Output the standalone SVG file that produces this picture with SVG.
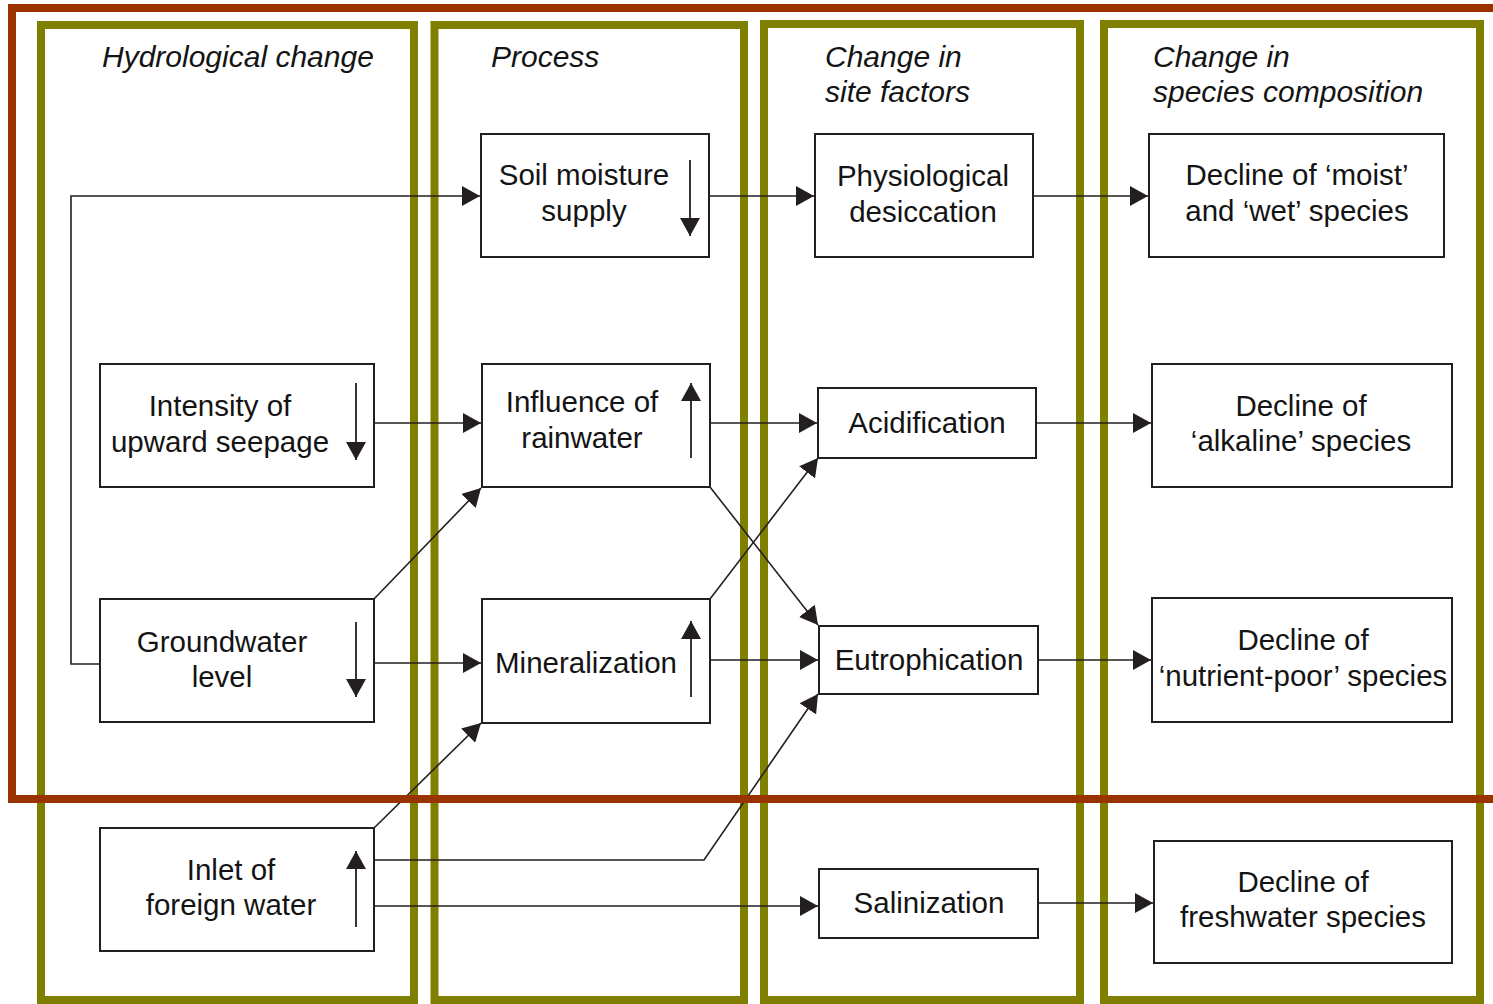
<svg xmlns="http://www.w3.org/2000/svg" width="1493" height="1004" viewBox="0 0 1493 1004">
<defs>
<marker id="ah" viewBox="0 0 18 20" refX="18" refY="10" markerWidth="18" markerHeight="20" markerUnits="userSpaceOnUse" orient="auto">
<path d="M0,0 L18,10 L0,20 z" fill="#231f20"/>
</marker>
<style>
.col{fill:none;stroke:#808000;stroke-width:8}
.frame{fill:none;stroke:#993300;stroke-width:8}
.box{fill:#fff;stroke:#231f20;stroke-width:2}
.c{fill:none;stroke:#231f20;stroke-width:1.6;marker-end:url(#ah)}
.ind{fill:none;stroke:#231f20;stroke-width:1.8;marker-end:url(#ah)}
text{font-family:"Liberation Sans",Arial,sans-serif;font-size:29.5px;fill:#141414}
.t{text-anchor:middle}
.h{font-style:italic;font-size:30px}
</style>
</defs>
<rect width="1493" height="1004" fill="#fff"/>
<g id="columns">
<rect class="col" x="41" y="25" width="373" height="975"/>
<rect class="col" x="434.5" y="25" width="309.5" height="975"/>
<rect class="col" x="764" y="24" width="316" height="976"/>
<rect class="col" x="1104" y="24" width="376" height="976"/>
</g>
<g id="headers">
<text class="h" x="102" y="67">Hydrological change</text>
<text class="h" x="491" y="67">Process</text>
<text class="h" x="825" y="67">Change in</text>
<text class="h" x="825" y="102">site factors</text>
<text class="h" x="1153" y="67">Change in</text>
<text class="h" x="1153" y="102">species composition</text>
</g>
<g id="connectors">
<path class="c" d="M100,664 H71 V196 H480"/>
<path class="c" d="M709,196 H814"/>
<path class="c" d="M1033,196 H1148"/>
<path class="c" d="M374,423 H481"/>
<path class="c" d="M374,599 L481,488"/>
<path class="c" d="M374,663 H481"/>
<path class="c" d="M710,423 H817"/>
<path class="c" d="M710,487 L818,625"/>
<path class="c" d="M710,599 L818,458"/>
<path class="c" d="M710,660 H818"/>
<path class="c" d="M1036,423 H1151"/>
<path class="c" d="M1038,660 H1151"/>
<path class="c" d="M374,828 L481,723"/>
<path class="c" d="M374,860 H704 L818,694"/>
<path class="c" d="M374,906 H818"/>
<path class="c" d="M1038,903 H1153"/>
</g>
<g id="soil-moisture">
<rect class="box" x="481" y="134" width="228" height="123"/>
<text class="t" x="584" y="185">Soil moisture</text>
<text class="t" x="584" y="221">supply</text>
<path class="ind" d="M690,160 V236"/>
</g>
<g id="physiological">
<rect class="box" x="815" y="134" width="218" height="123"/>
<text class="t" x="923" y="186">Physiological</text>
<text class="t" x="923" y="222">desiccation</text>
</g>
<g id="decline-moist">
<rect class="box" x="1149" y="134" width="295" height="123"/>
<text class="t" x="1297" y="185">Decline of ‘moist’</text>
<text class="t" x="1297" y="221">and ‘wet’ species</text>
</g>
<g id="intensity">
<rect class="box" x="100" y="364" width="274" height="123"/>
<text class="t" x="220" y="416">Intensity of</text>
<text class="t" x="220" y="452">upward seepage</text>
<path class="ind" d="M356,383 V460"/>
</g>
<g id="influence">
<rect class="box" x="482" y="364" width="228" height="123"/>
<text class="t" x="582" y="412">Influence of</text>
<text class="t" x="582" y="448">rainwater</text>
<path class="ind" d="M691,458 V383"/>
</g>
<g id="acidification">
<rect class="box" x="818" y="388" width="218" height="70"/>
<text class="t" x="927" y="433">Acidification</text>
</g>
<g id="decline-alkaline">
<rect class="box" x="1152" y="364" width="300" height="123"/>
<text class="t" x="1301" y="416">Decline of</text>
<text class="t" x="1301" y="451">‘alkaline’ species</text>
</g>
<g id="groundwater">
<rect class="box" x="100" y="599" width="274" height="123"/>
<text class="t" x="222" y="652">Groundwater</text>
<text class="t" x="222" y="687">level</text>
<path class="ind" d="M356,622 V697"/>
</g>
<g id="mineralization">
<rect class="box" x="482" y="599" width="228" height="124"/>
<text class="t" x="586" y="673">Mineralization</text>
<path class="ind" d="M691,697 V621"/>
</g>
<g id="eutrophication">
<rect class="box" x="819" y="626" width="219" height="68"/>
<text class="t" x="929" y="670">Eutrophication</text>
</g>
<g id="decline-nutrient">
<rect class="box" x="1152" y="598" width="300" height="124"/>
<text class="t" x="1303" y="650">Decline of</text>
<text class="t" x="1303" y="686">‘nutrient-poor’ species</text>
</g>
<g id="inlet">
<rect class="box" x="100" y="828" width="274" height="123"/>
<text class="t" x="231" y="880">Inlet of</text>
<text class="t" x="231" y="915">foreign water</text>
<path class="ind" d="M356,927 V851"/>
</g>
<g id="salinization">
<rect class="box" x="819" y="869" width="219" height="69"/>
<text class="t" x="929" y="913">Salinization</text>
</g>
<g id="decline-freshwater">
<rect class="box" x="1154" y="841" width="298" height="122"/>
<text class="t" x="1303" y="892">Decline of</text>
<text class="t" x="1303" y="927">freshwater species</text>
</g>
<g id="frame">
<rect class="frame" x="12" y="8" width="1500" height="791"/>
</g>
</svg>
